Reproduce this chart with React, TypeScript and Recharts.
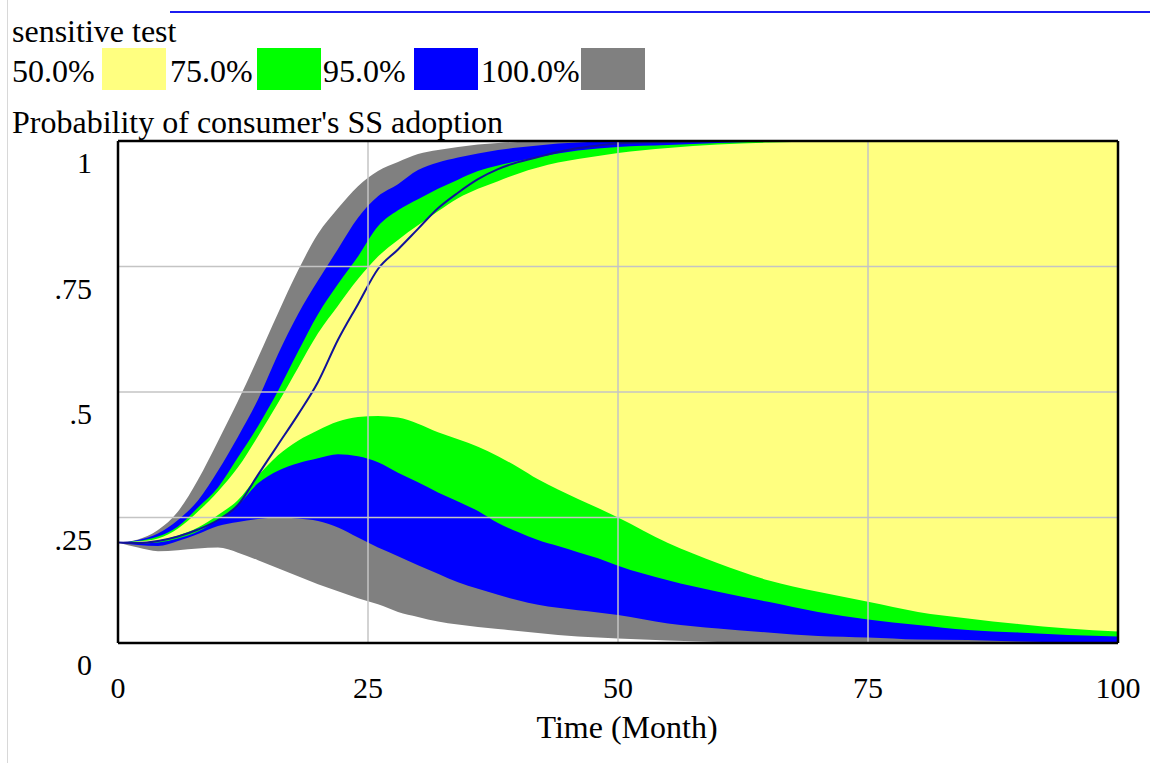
import React from 'react';
import { ComposedChart, Area, Line, XAxis, YAxis, ReferenceLine } from 'recharts';

// Time (Month)
const times = [0, 2, 4, 6, 8, 10, 12, 14, 16, 18, 20, 22, 24, 26, 28, 30, 32, 34, 36, 38, 40, 42, 44, 46, 48, 50, 55, 60, 65, 70, 75, 80, 85, 90, 95, 100];

// 100% band (gray)
const grayHi = [0.2, 0.206, 0.225, 0.262, 0.325, 0.402, 0.482, 0.568, 0.657, 0.742, 0.815, 0.866, 0.91, 0.94, 0.958, 0.974, 0.982, 0.988, 0.993, 0.996, 0.998, 0.999, 1, 1, 1, 1, 1, 1, 1, 1, 1, 1, 1, 1, 1, 1];
const grayLo = [0.2, 0.19, 0.183, 0.185, 0.188, 0.19, 0.18, 0.165, 0.149, 0.133, 0.117, 0.103, 0.089, 0.077, 0.062, 0.052, 0.043, 0.037, 0.032, 0.028, 0.024, 0.02, 0.016, 0.013, 0.011, 0.009, 0.005, 0.002, 0, 0, 0, 0, 0, 0, 0, 0];

// 95% band (blue)
const blueHi = [0.2, 0.205, 0.218, 0.245, 0.284, 0.343, 0.411, 0.485, 0.575, 0.655, 0.722, 0.785, 0.847, 0.89, 0.914, 0.942, 0.957, 0.967, 0.975, 0.982, 0.987, 0.991, 0.995, 0.997, 0.999, 1, 1, 1, 1, 1, 1, 1, 1, 1, 1, 1];
const blueLo = [0.2, 0.195, 0.193, 0.203, 0.217, 0.233, 0.241, 0.247, 0.25, 0.248, 0.243, 0.23, 0.21, 0.19, 0.173, 0.155, 0.138, 0.121, 0.108, 0.096, 0.085, 0.076, 0.07, 0.065, 0.061, 0.056, 0.039, 0.029, 0.021, 0.014, 0.011, 0.007, 0.006, 0.003, 0.001, 0];

// 75% band (green)
const greenHi = [0.2, 0.203, 0.212, 0.232, 0.27, 0.31, 0.37, 0.432, 0.502, 0.58, 0.655, 0.715, 0.77, 0.83, 0.862, 0.884, 0.905, 0.923, 0.94, 0.951, 0.96, 0.968, 0.975, 0.981, 0.985, 0.988, 0.992, 0.996, 0.999, 1, 1, 1, 1, 1, 1, 1];
const greenLo = [0.2, 0.198, 0.2, 0.208, 0.222, 0.246, 0.275, 0.318, 0.343, 0.358, 0.368, 0.376, 0.372, 0.36, 0.339, 0.32, 0.3, 0.282, 0.263, 0.239, 0.221, 0.205, 0.193, 0.181, 0.169, 0.154, 0.125, 0.102, 0.082, 0.062, 0.047, 0.036, 0.026, 0.021, 0.016, 0.013];

// 50% band (yellow)
const yellowHi = [0.2, 0.202, 0.208, 0.228, 0.262, 0.302, 0.35, 0.412, 0.478, 0.548, 0.617, 0.672, 0.725, 0.77, 0.803, 0.832, 0.86, 0.886, 0.905, 0.92, 0.935, 0.947, 0.957, 0.964, 0.97, 0.976, 0.986, 0.993, 0.997, 0.999, 1, 1, 1, 1, 1, 1];
const yellowLo = [0.2, 0.2, 0.204, 0.214, 0.23, 0.255, 0.285, 0.333, 0.374, 0.403, 0.424, 0.441, 0.45, 0.452, 0.449, 0.437, 0.42, 0.406, 0.391, 0.372, 0.35, 0.326, 0.306, 0.287, 0.269, 0.25, 0.199, 0.159, 0.125, 0.102, 0.082, 0.062, 0.049, 0.038, 0.029, 0.023];

// base run line
const baseRun = [0.2, 0.199, 0.203, 0.212, 0.226, 0.245, 0.275, 0.335, 0.395, 0.455, 0.52, 0.604, 0.675, 0.745, 0.784, 0.825, 0.866, 0.897, 0.924, 0.944, 0.958, 0.968, 0.978, 0.986, 0.991, 0.995, 0.998, 1, 1, 1, 1, 1, 1, 1, 1, 1];

const legendLabels = ['50.0%', '75.0%', '95.0%', '100.0%'];
const bandColors = ['#FFFF80', '#00FF00', '#0000FF', '#808080'];

const xTicks = [0, 25, 50, 75, 100];
const xTickLabels = ['0', '25', '50', '75', '100'];
const yTicks = [0, 0.25, 0.5, 0.75, 1];
const yTickLabels = ['0', '.25', '.5', '.75', '1'];

const data = times.map((t, i) => ({
  t,
  gray: [grayLo[i], grayHi[i]],
  blue: [blueLo[i], blueHi[i]],
  green: [greenLo[i], greenHi[i]],
  yellow: [yellowLo[i], yellowHi[i]],
  base: baseRun[i],
}));

const FONT = "'Liberation Serif', 'Times New Roman', serif";
const textStyle = { fontFamily: FONT };

const YTick = (props: any) => {
  const { x, y, payload } = props;
  const idx = yTicks.indexOf(payload.value);
  return (
    <text x={x - 26} y={y + 32} textAnchor="end" fontSize={30} style={textStyle} fill="#000">
      {yTickLabels[idx]}
    </text>
  );
};

const XTick = (props: any) => {
  const { x, y, payload } = props;
  const idx = xTicks.indexOf(payload.value);
  return (
    <text x={x} y={y + 55} textAnchor="middle" fontSize={30} style={textStyle} fill="#000">
      {xTickLabels[idx]}
    </text>
  );
};

const legendTextX = [12, 170, 323, 481];
const legendBoxX = [102, 257, 414, 581];

export default function App() {
  return (
    <div style={{ position: 'absolute', left: 0, top: 0, width: 1163, height: 763, background: '#fff', overflow: 'hidden' }}>
      <div style={{ position: 'absolute', left: 7, top: 0, width: 1, height: 763, background: '#d8d8d8' }} />
      <div style={{ position: 'absolute', left: 170, top: 11, width: 980, height: 2, background: '#1c1cf0' }} />
      <svg width={1163} height={140} style={{ position: 'absolute', left: 0, top: 0 }}>
        <text x={12} y={42} fontSize={32} style={textStyle} fill="#000">sensitive test</text>
        {legendLabels.map((lab, i) => (
          <g key={lab}>
            <text x={legendTextX[i]} y={82} fontSize={32} style={textStyle} fill="#000">{lab}</text>
            <rect x={legendBoxX[i]} y={48} width={64} height={42} fill={bandColors[i]} />
          </g>
        ))}
        <text x={12} y={133} fontSize={32} style={textStyle} fill="#000">Probability of consumer's SS adoption</text>
      </svg>
      <div style={{ position: 'absolute', left: 0, top: 0 }}>
        <ComposedChart width={1163} height={763} data={data} margin={{ top: 141, right: 45, bottom: 0, left: 0 }}>
          <XAxis
            dataKey="t"
            type="number"
            domain={[0, 100]}
            ticks={xTicks}
            height={120}
            tickSize={0}
            tickMargin={0}
            tick={<XTick />}
            axisLine={{ stroke: '#000', strokeWidth: 2.5 }}
            tickLine={false}
            interval={0}
          />
          <YAxis
            type="number"
            domain={[0, 1]}
            ticks={yTicks}
            width={118}
            tickSize={0}
            tickMargin={0}
            tick={<YTick />}
            axisLine={{ stroke: '#000', strokeWidth: 2.5 }}
            tickLine={false}
            interval={0}
          />
          <Area type="monotone" dataKey="gray" stroke="none" fill={bandColors[3]} fillOpacity={1} isAnimationActive={false} />
          <Area type="monotone" dataKey="blue" stroke="none" fill={bandColors[2]} fillOpacity={1} isAnimationActive={false} />
          <Area type="monotone" dataKey="green" stroke="none" fill={bandColors[1]} fillOpacity={1} isAnimationActive={false} />
          <Area type="monotone" dataKey="yellow" stroke="none" fill={bandColors[0]} fillOpacity={1} isAnimationActive={false} />
          <Line type="monotone" dataKey="base" stroke="#12129a" strokeWidth={2} dot={false} isAnimationActive={false} />
          {[25, 50, 75].map((v) => (
            <ReferenceLine key={'x' + v} x={v} stroke="#c4c4c4" strokeWidth={1.5} />
          ))}
          {[0.25, 0.5, 0.75].map((v) => (
            <ReferenceLine key={'y' + v} y={v} stroke="#c4c4c4" strokeWidth={1.5} />
          ))}
          <ReferenceLine y={1} stroke="#000" strokeWidth={2.5} />
          <ReferenceLine x={100} stroke="#000" strokeWidth={2.5} />
        </ComposedChart>
      </div>
      <svg width={1163} height={763} style={{ position: 'absolute', left: 0, top: 0, pointerEvents: 'none' }}>
        <text x={627} y={738} textAnchor="middle" fontSize={32} style={textStyle} fill="#000">Time (Month)</text>
      </svg>
    </div>
  );
}
